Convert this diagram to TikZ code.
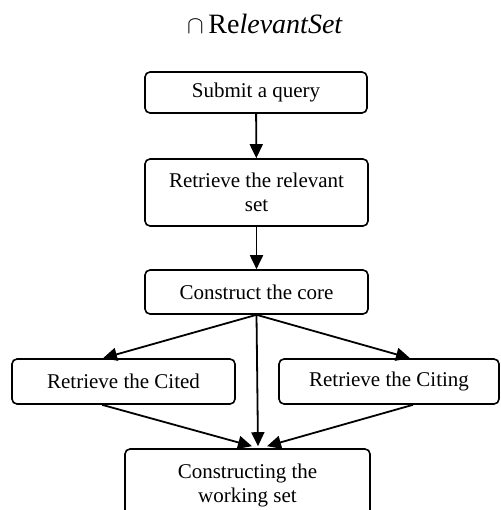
\documentclass[tikz,border=0pt]{standalone}
\usepackage{fontspec}
\setmainfont{Liberation Serif}
\usetikzlibrary{arrows.meta,calc}
\begin{document}
\begin{tikzpicture}[x=1pt,y=-1pt,
  box/.style={draw,line width=1.6pt,rounded corners=5pt,align=center,inner sep=0pt,
    font=\fontsize{21}{24}\selectfont},
  arr/.style={line width=1.8pt,-{Triangle[length=14pt,width=13pt]}}]
\useasboundingbox (0,0) rectangle (500,510);
\clip (0,0) rectangle (500,510);
\node[anchor=base,font=\fontsize{28}{30}\selectfont] (title) at (265,34) {$\cap$\,Re\textit{levantSet}};
\node[box,minimum width=222pt,minimum height=41pt] (q) at (256,92.5) {Submit a query};
\node[box,minimum width=223pt,minimum height=67pt] (rel) at (256.5,192.5) {Retrieve the relevant\\set};
\node[box,minimum width=223pt,minimum height=44pt] (core) at (256.5,292) {Construct the core};
\node[box,minimum width=223pt,minimum height=45pt] (cited) at (123.5,381.5) {Retrieve the Cited};
\node[box,minimum width=220pt,minimum height=45pt] (citing) at (389,381.5) {Retrieve the Citing};
\node[box,minimum width=245pt,minimum height=73pt] (work) at (247.5,485.5) {Constructing the\\working set};
\draw[arr] (q) -- (rel);
\draw[arr] (rel) -- (core);
\draw[arr] (core.south) -- ($(cited.north)+(-20.5,0)$);
\draw[arr] (core.south) -- ($(citing.north)+(21,0)$);
\draw[arr] (core.south) -- ($(work.north)+(10.5,-2)$);
\draw[arr] ($(cited.south)+(-21.5,0)$) -- ($(work.north)+(4.5,-2)$);
\draw[arr] ($(citing.south)+(24,0)$) -- ($(work.north)+(19.5,-2)$);
\end{tikzpicture}
\end{document}
